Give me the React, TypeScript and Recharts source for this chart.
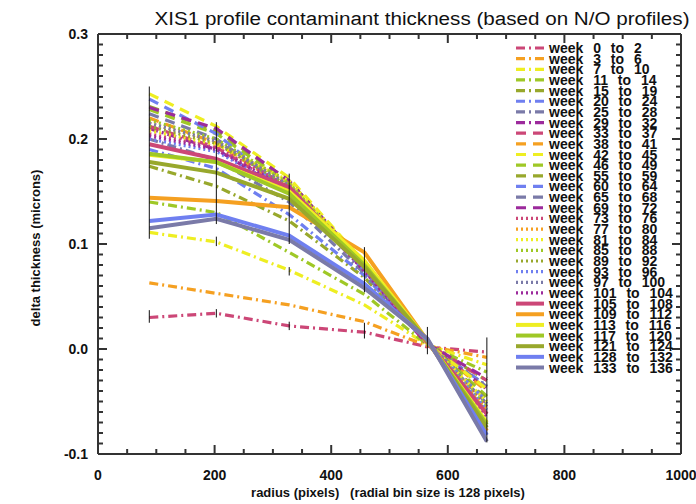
import { ComposedChart, Line, XAxis, YAxis } from "recharts";

// radial bin centres (pixels)
const radii = [88, 203, 328, 457, 565, 667];

const weekRanges = [
  "0 to 2", "3 to 6", "7 to 10", "11 to 14", "15 to 19", "20 to 24", "25 to 28", "29 to 32",
  "33 to 37", "38 to 41", "42 to 45", "46 to 49", "55 to 59", "60 to 64", "65 to 68", "69 to 72",
  "73 to 76", "77 to 80", "81 to 84", "85 to 88", "89 to 92", "93 to 96", "97 to 100", "101 to 104",
  "105 to 108", "109 to 112", "113 to 116", "117 to 120", "121 to 124", "128 to 132", "133 to 136",
];

const palette = ["#cc4777", "#f5a021", "#eeee22", "#9fc826", "#98a82c", "#6f7ff0", "#7a7aa8", "#9c2a9c"];

// delta thickness (microns) at each radius
const dashDotValues = [
  [0.030, 0.034, 0.022, 0.016, 0.002, -0.003],
  [0.063, 0.053, 0.042, 0.026, 0.003, -0.008],
  [0.111, 0.102, 0.075, 0.042, 0.004, -0.015],
  [0.140, 0.130, 0.092, 0.052, 0.004, -0.022],
  [0.174, 0.155, 0.122, 0.068, 0.005, -0.030],
  [0.190, 0.172, 0.128, 0.070, 0.005, -0.035],
  [0.200, 0.180, 0.140, 0.072, 0.005, -0.036],
  [0.210, 0.190, 0.148, 0.075, 0.004, -0.038],
];
const dashedValues = [
  [0.212, 0.192, 0.150, 0.076, 0.005, -0.030],
  [0.220, 0.196, 0.152, 0.078, 0.005, -0.040],
  [0.243, 0.212, 0.163, 0.082, 0.005, -0.038],
  [0.228, 0.205, 0.158, 0.078, 0.006, -0.045],
  [0.231, 0.208, 0.160, 0.080, 0.006, -0.048],
  [0.238, 0.205, 0.148, 0.079, 0.006, -0.050],
  [0.224, 0.200, 0.152, 0.076, 0.006, -0.052],
  [0.230, 0.210, 0.160, 0.080, 0.005, -0.028],
];
const dottedValues = [
  [0.205, 0.192, 0.155, 0.078, 0.006, -0.055],
  [0.215, 0.198, 0.157, 0.080, 0.006, -0.058],
  [0.208, 0.195, 0.160, 0.082, 0.006, -0.050],
  [0.218, 0.200, 0.158, 0.079, 0.006, -0.055],
  [0.212, 0.196, 0.155, 0.078, 0.007, -0.060],
  [0.200, 0.188, 0.150, 0.075, 0.007, -0.058],
  [0.215, 0.198, 0.156, 0.076, 0.007, -0.062],
  [0.203, 0.190, 0.152, 0.074, 0.006, -0.065],
];
const solidValues = [
  [0.195, 0.181, 0.154, 0.078, 0.007, -0.062],
  [0.144, 0.141, 0.135, 0.092, 0.008, -0.078],
  [0.185, 0.178, 0.150, 0.084, 0.008, -0.070],
  [0.186, 0.178, 0.148, 0.080, 0.008, -0.072],
  [0.178, 0.168, 0.143, 0.078, 0.008, -0.075],
  [0.122, 0.128, 0.108, 0.062, 0.009, -0.082],
  [0.115, 0.124, 0.104, 0.058, 0.010, -0.088],
];

const errorBars = [
  { x: 88, lo: 0.105, hi: 0.25 },
  { x: 88, lo: 0.025, hi: 0.037 },
  { x: 203, lo: 0.119, hi: 0.216 },
  { x: 203, lo: 0.098, hi: 0.107 },
  { x: 203, lo: 0.03, hi: 0.038 },
  { x: 328, lo: 0.1, hi: 0.167 },
  { x: 328, lo: 0.07, hi: 0.078 },
  { x: 328, lo: 0.018, hi: 0.026 },
  { x: 457, lo: 0.054, hi: 0.097 },
  { x: 457, lo: 0.01, hi: 0.025 },
  { x: 565, lo: -0.005, hi: 0.021 },
  { x: 667, lo: -0.089, hi: 0.011 },
];

const X_MIN = 0;
const X_MAX = 1000;
const Y_MIN = -0.1;
const Y_MAX = 0.3;
const xTicks = Array.from({ length: 21 }, (_, i) => i * 50);
const yTicks = Array.from({ length: 41 }, (_, i) => Math.round(-10 + i) / 100);

const dashPatterns: Record<string, string | undefined> = {
  dashdot: "9 4 2 4",
  dashed: "10 7",
  dotted: "2 3",
  solid: undefined,
};

const groups = [
  { style: "dashdot", values: dashDotValues },
  { style: "dashed", values: dashedValues },
  { style: "dotted", values: dottedValues },
  { style: "solid", values: solidValues },
];

const series = groups.flatMap((g, gi) =>
  g.values.map((vals, i) => {
    const idx = gi * 8 + i;
    return {
      name: "week " + weekRanges[idx],
      color: palette[i],
      dash: dashPatterns[g.style],
      width: g.style === "solid" ? 4 : 3.2,
      data: radii.map((x, k) => ({ x, y: vals[k] })),
    };
  })
);

const isMajorX = (v: number) => v % 200 === 0;
const isMajorY = (v: number) => Math.abs(v * 10 - Math.round(v * 10)) < 1e-6;

// top and right sides of the box as two-point lines
const frameSides = [
  [{ x: X_MIN, y: Y_MAX }, { x: X_MAX, y: Y_MAX }],
  [{ x: X_MAX, y: Y_MIN }, { x: X_MAX, y: Y_MAX }],
];

const MARGIN = { top: 34, right: 15, bottom: 0, left: 0 };
const W = 696;
const H = 504;
const PLOT_TOP = MARGIN.top;
const PLOT_RIGHT = W - MARGIN.right;
const TM = 10;
const AXIS = "#333";
const labelFont = { fontFamily: "Liberation Sans, Arial, sans-serif", fontWeight: 700 } as const;

// IDL style: ticks point inward on all four sides
function BottomTick({ x, y, payload }: any) {
  const v = payload.value;
  const major = isMajorX(v);
  const len = major ? 9 : 5;
  const y0 = y - TM;
  return (
    <g>
      <line x1={x} x2={x} y1={y0} y2={y0 - len} stroke={AXIS} strokeWidth={2} />
      <line x1={x} x2={x} y1={PLOT_TOP} y2={PLOT_TOP + len} stroke={AXIS} strokeWidth={2} />
      {major && (
        <text x={x} y={y + 16} textAnchor="middle" fontSize={14} fill="#111" {...labelFont}>
          {v}
        </text>
      )}
    </g>
  );
}

function LeftTick({ x, y, payload }: any) {
  const v = payload.value;
  const major = isMajorY(v);
  const len = major ? 9 : 5;
  const x0 = x + TM;
  return (
    <g>
      <line x1={x0} x2={x0 + len} y1={y} y2={y} stroke={AXIS} strokeWidth={2} />
      <line x1={PLOT_RIGHT} x2={PLOT_RIGHT - len} y1={y} y2={y} stroke={AXIS} strokeWidth={2} />
      {major && (
        <text x={x} y={y + 5} textAnchor="end" fontSize={14} fill="#111" {...labelFont}>
          {v.toFixed(1)}
        </text>
      )}
    </g>
  );
}

const LEGEND_TOP = 48;
const LEGEND_STEP = 10.65;

export default function App() {
  return (
    <div style={{ position: "absolute", left: 0, top: 0, width: W, height: H, background: "#fff" }}>
      <ComposedChart width={W} height={H} margin={MARGIN}>
        <XAxis
          type="number"
          dataKey="x"
          domain={[X_MIN, X_MAX]}
          ticks={xTicks}
          interval={0}
          height={50}
          tickSize={0}
          tickMargin={TM}
          tickLine={false}
          axisLine={{ stroke: AXIS, strokeWidth: 2 }}
          tick={(p: any) => <BottomTick {...p} />}
        />
        <YAxis
          type="number"
          domain={[Y_MIN, Y_MAX]}
          ticks={yTicks}
          interval={0}
          width={98}
          tickSize={0}
          tickMargin={TM}
          tickLine={false}
          axisLine={{ stroke: AXIS, strokeWidth: 2 }}
          tick={(p: any) => <LeftTick {...p} />}
        />
        {series.map((s) => (
          <Line
            key={s.name}
            data={s.data}
            dataKey="y"
            type="linear"
            stroke={s.color}
            strokeWidth={s.width}
            strokeDasharray={s.dash}
            dot={false}
            activeDot={false}
            isAnimationActive={false}
          />
        ))}
        {errorBars.map((e, i) => (
          <Line
            key={"err" + i}
            data={[{ x: e.x, y: e.lo }, { x: e.x, y: e.hi }]}
            dataKey="y"
            stroke="#111"
            strokeWidth={1}
            dot={false}
            activeDot={false}
            isAnimationActive={false}
          />
        ))}
        {frameSides.map((d, i) => (
          <Line
            key={"side" + i}
            data={d}
            dataKey="y"
            stroke={AXIS}
            strokeWidth={2}
            dot={false}
            activeDot={false}
            isAnimationActive={false}
          />
        ))}
      </ComposedChart>
      <svg width={W} height={H} style={{ position: "absolute", left: 0, top: 0, pointerEvents: "none" }}>
        <text
          x={422}
          y={25}
          textAnchor="middle"
          fontSize={18}
          fill="#111"
          fontFamily="Liberation Sans, Arial, sans-serif"
          textLength={535}
          lengthAdjust="spacingAndGlyphs"
        >
          XIS1 profile contaminant thickness (based on N/O profiles)
        </text>
        <text x={388} y={497} textAnchor="middle" fontSize={13} fill="#111" {...labelFont} style={{ whiteSpace: "pre" }}>
          {"radius (pixels)   (radial bin size is 128 pixels)"}
        </text>
        <text
          x={0}
          y={0}
          transform="translate(40 248) rotate(-90)"
          textAnchor="middle"
          fontSize={13}
          fill="#111"
          {...labelFont}
        >
          delta thickness (microns)
        </text>
        {series.map((s, i) => {
          const y = LEGEND_TOP + i * LEGEND_STEP;
          return (
            <g key={s.name}>
              <line x1={516} x2={544} y1={y} y2={y} stroke={s.color} strokeWidth={s.width} strokeDasharray={s.dash} />
              <text x={549} y={y + 5} fontSize={14} fill="#111" {...labelFont} wordSpacing={6}>
                {s.name}
              </text>
            </g>
          );
        })}
      </svg>
    </div>
  );
}
